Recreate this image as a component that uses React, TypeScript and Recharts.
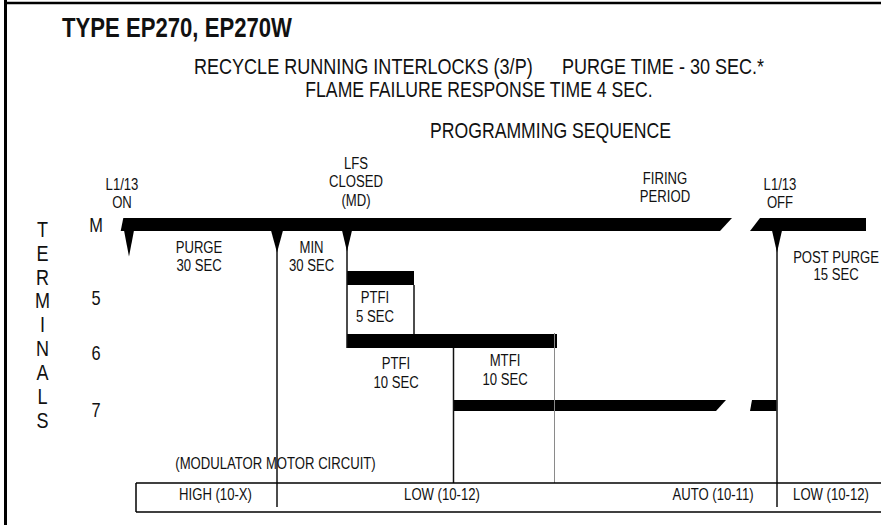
import React from "react";
import {
  ComposedChart,
  XAxis,
  YAxis,
  Scatter,
  ReferenceArea,
  ReferenceLine,
  ReferenceDot,
} from "recharts";

// sheet size; the x/y domains run in sheet units
const W = 881;
const H = 525;

// no narrow face installed, so squeeze Liberation Sans (Arial metrics)
const FONT = "'Liberation Sans', Arimo, Arial, sans-serif";
const NARROW = 0.82;
const INK = "#111";

// terminals and the level each one's trace sits at
const terminals = ["M", "5", "6", "7"];
const terminalLevels = [224.5, 278, 341, 405.5];
const terminalLabelLevels = [232, 305, 360, 417];

// energized spans: terminal, on, off
const spanTerminal = ["M", "M", "5", "6", "7", "7"];
const spanOn = [122, 755, 347, 347, 454, 751];
const spanOff = [726, 866, 414, 557, 721, 776.5];

// sequence events along the timeline
const markerEvents = [129, 277, 347, 777];

// timing lines: event, from level, to level
const lineEvent = [277, 347, 414, 453.5, 554.5, 777];
const lineFrom = [231, 231, 285, 348, 333, 232];
const lineTo = [507, 348, 334, 483, 483, 507];

// modulator motor circuit table
const modeLabels = ["HIGH (10-X)", "LOW (10-12)", "AUTO (10-11)", "LOW (10-12)"];
const modeCenters = [215.5, 442, 713, 831];
const tableLeft = 136;
const tableTop = 483;
const tableBottom = 512;

const sideLetters = "TERMINALS".split("");

// styles
const rowThickness: Record<string, number> = { M: 13, "5": 14, "6": 14, "7": 11 };
const spanCutIn = [2.6, 10, 0, 0, 0, 2];
const spanCutOut = [12, 0, 0, 0, 10, 0];
const markerDepth = [26, 22, 21, 22];
const markerWidth = [10, 12, 10, 10];
const lineColor = [INK, INK, INK, INK, "#8a8a8a", INK];
const lineWidth = [1.5, 1.5, 1.5, 1.5, 1, 1.5];

type Note = {
  lines: string[];
  x: number;
  y: number;
  size?: number;
  gap?: number;
  anchor?: "start" | "middle" | "end";
  weight?: number;
};

const notes: Note[] = [
  { lines: ["TYPE EP270, EP270W"], x: 62, y: 37, size: 27, weight: 700, anchor: "start" },
  { lines: ["RECYCLE RUNNING INTERLOCKS (3/P)"], x: 194, y: 74, size: 22, anchor: "start" },
  { lines: ["PURGE TIME - 30 SEC.*"], x: 562, y: 74, size: 22, anchor: "start" },
  { lines: ["FLAME FAILURE RESPONSE TIME 4 SEC."], x: 479, y: 97, size: 21.5 },
  { lines: ["PROGRAMMING SEQUENCE"], x: 550.5, y: 138, size: 21.5 },
  { lines: ["L1/13", "ON"], x: 122, y: 190 },
  { lines: ["LFS", "CLOSED", "(MD)"], x: 356, y: 169, gap: 18.5 },
  { lines: ["FIRING", "PERIOD"], x: 665, y: 184 },
  { lines: ["L1/13", "OFF"], x: 780, y: 190 },
  { lines: ["PURGE", "30 SEC"], x: 199, y: 253 },
  { lines: ["MIN", "30 SEC"], x: 311.5, y: 253 },
  { lines: ["POST PURGE", "15 SEC"], x: 836, y: 263, gap: 17.5 },
  { lines: ["PTFI", "5 SEC"], x: 375, y: 302.5, gap: 19.5 },
  { lines: ["PTFI", "10 SEC"], x: 396, y: 369, gap: 19.5 },
  { lines: ["MTFI", "10 SEC"], x: 505, y: 366, gap: 19 },
  { lines: ["(MODULATOR MOTOR CIRCUIT)"], x: 275.5, y: 469 },
];

function NarrowText({
  cx,
  cy,
  lines,
  size,
  gap = 18,
  anchor = "middle",
  weight = 400,
}: {
  cx?: number;
  cy?: number;
  lines: string[];
  size: number;
  gap?: number;
  anchor?: "start" | "middle" | "end";
  weight?: number;
}) {
  return (
    <text
      transform={`translate(${cx},${cy}) scale(${NARROW},1)`}
      x={0}
      y={0}
      fontFamily={FONT}
      fontSize={size}
      fontWeight={weight}
      fill={INK}
      textAnchor={anchor}
    >
      {lines.map((l, i) => (
        <tspan key={i} x={0} dy={i === 0 ? 0 : gap}>
          {l}
        </tspan>
      ))}
    </text>
  );
}

function SpanShape(props: any) {
  const { x, y, width, height, cutIn, cutOut } = props;
  const pts = [
    [x - cutIn / 2, y + height],
    [x + cutIn / 2, y],
    [x + width + cutOut / 2, y],
    [x + width - cutOut / 2, y + height],
  ];
  return <polygon points={pts.map((p) => p.join(",")).join(" ")} fill="#000" />;
}

function Marker(props: any) {
  const { cx, cy, w, d } = props;
  return (
    <polygon
      points={`${cx - w / 2},${cy} ${cx + w / 2},${cy} ${cx},${cy + d}`}
      fill="#000"
    />
  );
}

export default function App() {
  const mBottom = terminalLevels[0] + rowThickness.M / 2;
  // two invisible anchors keep the chart's data extent equal to the sheet
  const extent = [
    { x: 0, y: 0 },
    { x: W, y: H },
  ];
  return (
    <div
      style={{
        position: "absolute",
        left: 0,
        top: 0,
        width: W,
        height: H,
        overflow: "hidden",
        background: "#fff",
      }}
    >
      <style>{"html,body{margin:0;overflow:hidden;background:#fff}svg{display:block}"}</style>
      <ComposedChart
        width={W}
        height={H}
        margin={{ top: 0, right: 0, bottom: 0, left: 0 }}
        accessibilityLayer={false}
      >
        <XAxis type="number" dataKey="x" domain={[0, W]} allowDataOverflow hide />
        <YAxis type="number" dataKey="y" domain={[0, H]} allowDataOverflow reversed hide />

        <Scatter data={extent} dataKey="y" shape={() => <g />} isAnimationActive={false} />

        {/* sheet frame, left and top only */}
        <ReferenceLine segment={[{ x: 5.5, y: 0 }, { x: 5.5, y: H }]} stroke="#000" strokeWidth={3} />
        <ReferenceLine segment={[{ x: 4, y: 3 }, { x: W, y: 3 }]} stroke="#000" strokeWidth={2.5} />

        {/* timing lines */}
        {lineEvent.map((ev, i) => (
          <ReferenceLine
            key={`ln-${i}`}
            segment={[{ x: ev, y: lineFrom[i] }, { x: ev, y: lineTo[i] }]}
            stroke={lineColor[i]}
            strokeWidth={lineWidth[i]}
          />
        ))}

        {/* energized spans */}
        {spanTerminal.map((t, i) => {
          const lvl = terminalLevels[terminals.indexOf(t)];
          const th = rowThickness[t];
          return (
            <ReferenceArea
              key={`sp-${i}`}
              x1={spanOn[i]}
              x2={spanOff[i]}
              y1={lvl - th / 2}
              y2={lvl + th / 2}
              shape={(p: any) => (
                <SpanShape {...p} cutIn={spanCutIn[i]} cutOut={spanCutOut[i]} />
              )}
            />
          );
        })}

        {/* sequence markers */}
        {markerEvents.map((ev, i) => (
          <ReferenceDot
            key={`mk-${i}`}
            x={ev}
            y={mBottom - 0.5}
            r={0}
            shape={(p: any) => <Marker {...p} w={markerWidth[i]} d={markerDepth[i]} />}
          />
        ))}

        {/* modulator table */}
        <ReferenceLine segment={[{ x: tableLeft, y: tableTop }, { x: W, y: tableTop }]} stroke="#000" strokeWidth={1.5} />
        <ReferenceLine segment={[{ x: tableLeft, y: tableBottom }, { x: W, y: tableBottom }]} stroke="#000" strokeWidth={1.5} />
        <ReferenceLine segment={[{ x: tableLeft, y: tableTop }, { x: tableLeft, y: tableBottom }]} stroke="#000" strokeWidth={1.5} />
        {modeLabels.map((m, i) => (
          <ReferenceDot
            key={`md-${i}`}
            x={modeCenters[i]}
            y={500}
            r={0}
            shape={(p: any) => <NarrowText {...p} lines={[m]} size={16} />}
          />
        ))}

        {/* terminal names */}
        {terminals.map((t, i) => (
          <ReferenceDot
            key={`tm-${i}`}
            x={96}
            y={terminalLabelLevels[i]}
            r={0}
            shape={(p: any) => <NarrowText {...p} lines={[t]} size={20} />}
          />
        ))}
        {sideLetters.map((c, i) => (
          <ReferenceDot
            key={`sl-${i}`}
            x={42.5}
            y={236.7 + i * 23.9}
            r={0}
            shape={(p: any) => <NarrowText {...p} lines={[c]} size={22} />}
          />
        ))}

        {notes.map((n, i) => (
          <ReferenceDot
            key={`nt-${i}`}
            x={n.x}
            y={n.y}
            r={0}
            shape={(p: any) => (
              <NarrowText
                {...p}
                lines={n.lines}
                size={n.size ?? 16}
                gap={n.gap}
                anchor={n.anchor}
                weight={n.weight}
              />
            )}
          />
        ))}
      </ComposedChart>
    </div>
  );
}
